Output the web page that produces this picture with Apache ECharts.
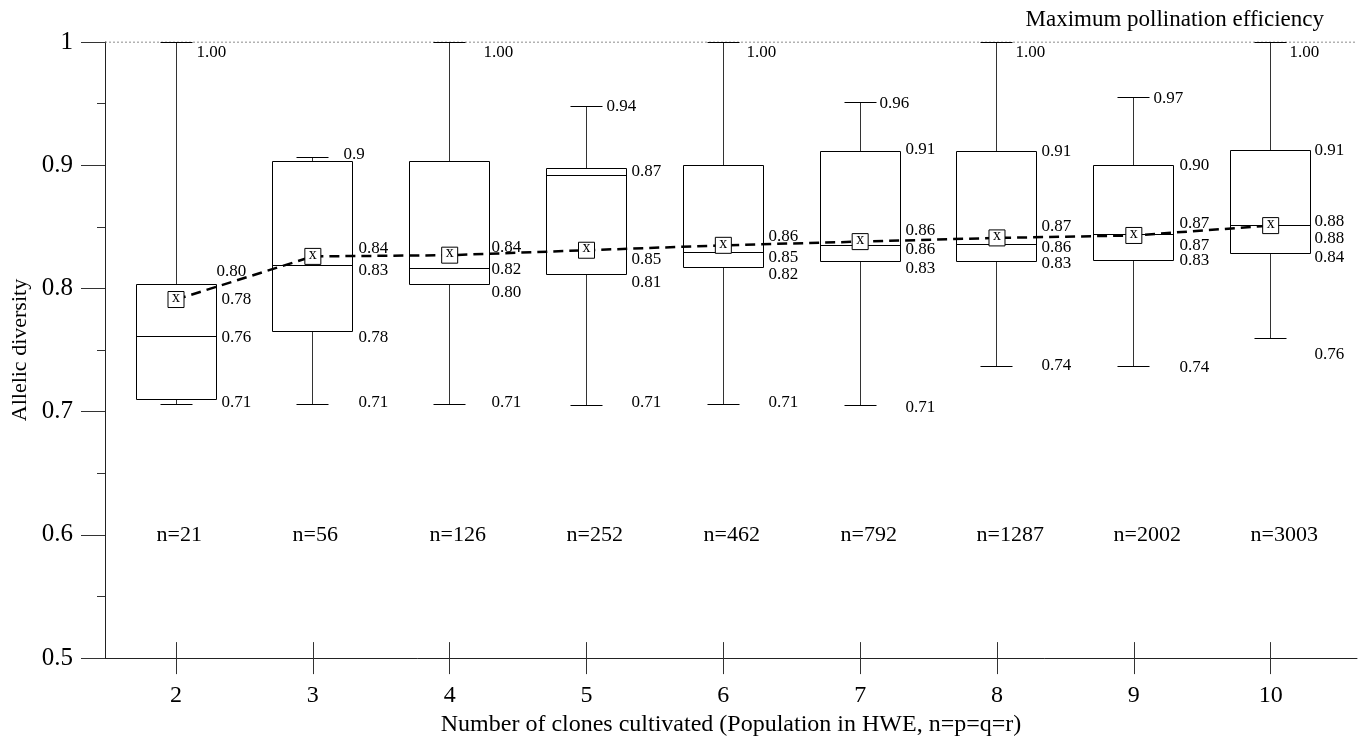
<!DOCTYPE html>
<html>
<head>
<meta charset="utf-8">
<script src="https://cdn.jsdelivr.net/npm/echarts@6/dist/echarts.min.js"></script>
<style>
html,body{margin:0;padding:0;background:#fff;}
#chart{width:1366px;height:742px;}
</style>
</head>
<body>
<div id="chart"></div>
<script>
// ---- data ----
const categories   = [2, 3, 4, 5, 6, 7, 8, 9, 10];
const sampleSizes  = ['n=21', 'n=56', 'n=126', 'n=252', 'n=462', 'n=792', 'n=1287', 'n=2002', 'n=3003'];
const whiskerHigh  = [1.000, 0.906, 1.000, 0.948, 1.000, 0.951, 1.000, 0.955, 1.000];
const q3           = [0.803, 0.903, 0.903, 0.897, 0.900, 0.911, 0.911, 0.900, 0.912];
const median       = [0.761, 0.819, 0.816, 0.892, 0.829, 0.835, 0.836, 0.844, 0.851];
const q1           = [0.710, 0.765, 0.803, 0.811, 0.817, 0.822, 0.822, 0.823, 0.828];
const whiskerLow   = [0.706, 0.706, 0.706, 0.705, 0.706, 0.705, 0.737, 0.737, 0.759];
const meanValues   = [0.791, 0.826, 0.827, 0.831, 0.835, 0.838, 0.841, 0.843, 0.851];
const maxEfficiency = 1.0;
const yTicks = [0.5, 0.6, 0.7, 0.8, 0.9, 1.0];

// value label texts printed next to each box ('' = none)
const labelWhiskerHigh = ['1.00', '0.9', '1.00', '0.94', '1.00', '0.96', '1.00', '0.97', '1.00'];
const labelQ3          = ['0.80', '', '', '0.87', '', '0.91', '0.91', '0.90', '0.91'];
const labelMean        = ['0.78', '0.84', '0.84', '0.85', '0.86', '0.86', '0.87', '0.87', '0.88'];
const labelMedian      = ['0.76', '0.83', '0.82', '', '0.85', '0.86', '0.86', '0.87', '0.88'];
const labelQ1          = ['', '0.78', '0.80', '0.81', '0.82', '0.83', '0.83', '0.83', '0.84'];
const labelWhiskerLow  = ['0.71', '0.71', '0.71', '0.71', '0.71', '0.71', '0.74', '0.74', '0.76'];

// ---- layout (pixel offsets of the value labels) ----
const LAYOUT = {
  boxHalf: 40, capHalf: 16,
  dxTop:   [20, 31, 34, 20, 23, 19, 19, 20, 19],
  dyTop:   [10, -3, 10, 0, 10, 1, 10, 1, 10],
  dxRight: [45, 46, 42, 45, 45, 45, 45, 46, 44],
  dyQ3:    [-13, 0, 0, 3, 0, -2, 0, 0, 0],
  dyMean:  [0, -8, -8, 9, -9, -11, -11, -12, -4],
  dyMed:   [1, 5, 1, 0, 5, 4, 3, 11, 13],
  dyQ1:    [0, 6, 8, 8, 7, 7, 2, 0, 4],
  dyWL:    [-2, -2, -2, -3, -2, 2, -1, 1, 16]
};
const SERIF = '"Liberation Serif", "Times New Roman", serif';
const X_MIN = 1.481, X_MAX = 10.631;

const boxData = categories.map((c, i) => [c, whiskerLow[i], q1[i], median[i], q3[i], whiskerHigh[i], meanValues[i]]);

function crisp(v) { return Math.round(v - 0.5) + 0.5; }

function renderBox(params, api) {
  const i = params.dataIndex;
  const xv = api.value(0);
  const cxp = crisp(api.coord([xv, 0.5])[0]);
  const y = k => crisp(api.coord([xv, api.value(k)])[1]);
  const yWL = y(1), yQ1 = y(2), yMed = y(3), yQ3 = y(4), yWH = y(5), yMean = api.coord([xv, api.value(6)])[1];
  const bh = LAYOUT.boxHalf, ch = LAYOUT.capHalf;
  const stroke = { stroke: '#000', lineWidth: 1, fill: null };
  const wstroke = { stroke: '#333', lineWidth: 1, fill: null };
  const kids = [
    { type: 'line', shape: { x1: cxp, y1: yWH, x2: cxp, y2: yQ3 }, style: wstroke },
    { type: 'line', shape: { x1: cxp, y1: yQ1, x2: cxp, y2: yWL }, style: wstroke },
    { type: 'line', shape: { x1: cxp - ch, y1: yWH, x2: cxp + ch, y2: yWH }, style: stroke },
    { type: 'line', shape: { x1: cxp - ch, y1: yWL, x2: cxp + ch, y2: yWL }, style: stroke },
    { type: 'rect', shape: { x: cxp - bh, y: yQ3, width: 2 * bh, height: yQ1 - yQ3 }, style: stroke },
    { type: 'line', shape: { x1: cxp - bh, y1: yMed, x2: cxp + bh, y2: yMed }, style: stroke }
  ];
  const font = '17px ' + SERIF;
  function txt(t, x, yy) {
    if (!t) return;
    kids.push({ type: 'text', x: x, y: yy, style: { text: t, font: font, fill: '#000', align: 'left', verticalAlign: 'middle' } });
  }
  const xr = cxp + LAYOUT.dxRight[i];
  txt(labelWhiskerHigh[i], cxp + LAYOUT.dxTop[i], yWH + LAYOUT.dyTop[i]);
  txt(labelQ3[i], i === 0 ? cxp + bh : xr, yQ3 + LAYOUT.dyQ3[i]);
  txt(labelMean[i], xr, yMean + LAYOUT.dyMean[i]);
  txt(labelMedian[i], xr, yMed + LAYOUT.dyMed[i]);
  txt(labelQ1[i], xr, yQ1 + LAYOUT.dyQ1[i]);
  txt(labelWhiskerLow[i], xr, yWL + LAYOUT.dyWL[i]);
  // sample size label
  const pN = api.coord([xv, 0.6]);
  kids.push({ type: 'text', x: cxp - 20, y: pN[1], style: { text: sampleSizes[i], font: '22px ' + SERIF, fill: '#000', align: 'left', verticalAlign: 'middle' } });
  return { type: 'group', children: kids };
}

const chart = echarts.init(document.getElementById('chart'), null, { renderer: 'canvas' });
const option = {
  animation: false,
  backgroundColor: '#fff',
  grid: { left: 105, right: 9, top: 42, bottom: 78, containLabel: false },
  xAxis: [{
    type: 'value', min: X_MIN, max: X_MAX,
    name: 'Number of clones cultivated (Population in HWE, n=p=q=r)',
    nameLocation: 'middle', nameGap: 50,
    nameTextStyle: { fontFamily: SERIF, fontSize: 24, color: '#000' },
    axisLine: { show: true, lineStyle: { color: '#222', width: 1 } },
    axisTick: { show: true, length: 16, customValues: categories, lineStyle: { color: '#333' } },
    axisLabel: { customValues: categories, margin: 26, fontFamily: SERIF, fontSize: 24, color: '#000' },
    splitLine: { show: false }
  }, {
    type: 'value', min: X_MIN, max: X_MAX, position: 'bottom', gridIndex: 0,
    axisLine: { show: false },
    axisTick: { show: true, inside: true, length: 16, customValues: categories, lineStyle: { color: '#333' } },
    axisLabel: { show: false },
    splitLine: { show: false }
  }],
  yAxis: {
    type: 'value', min: 0.5, max: 1.0, interval: 0.1,
    name: 'Allelic diversity', nameLocation: 'middle', nameGap: 72,
    nameTextStyle: { fontFamily: SERIF, fontSize: 22, color: '#000' },
    axisLine: { show: true, lineStyle: { color: '#222', width: 1 } },
    axisTick: { show: true, length: 24, lineStyle: { color: '#333' } },
    minorTick: { show: true, splitNumber: 2, length: 8, lineStyle: { color: '#333' } },
    axisLabel: { margin: 32, fontFamily: SERIF, fontSize: 25, color: '#000',
      formatter: v => String(+v.toFixed(1)) },
    splitLine: { show: false }
  },
  graphic: [{
    type: 'text', right: 42, top: 8,
    style: { text: 'Maximum pollination efficiency', font: '23px ' + SERIF, fill: '#000' }
  }],
  series: [{
    type: 'line', xAxisIndex: 0, silent: true, symbol: 'none', z: 1,
    data: [[X_MIN, maxEfficiency], [X_MAX, maxEfficiency]],
    lineStyle: { color: '#666', width: 1, type: [2, 2] }
  }, {
    type: 'custom', xAxisIndex: 0, renderItem: renderBox, data: boxData, z: 2,
    encode: { x: 0, y: [1, 2, 3, 4, 5] }
  }, {
    type: 'line', xAxisIndex: 0, symbol: 'none', z: 3,
    data: categories.map((c, i) => [c, meanValues[i]]),
    lineStyle: { color: '#000', width: 2.5, type: [10, 6] }
  }, {
    type: 'scatter', xAxisIndex: 0, z: 4, symbol: 'rect', symbolSize: 16,
    data: categories.map((c, i) => [c, meanValues[i]]),
    itemStyle: { color: '#fff', borderColor: '#000', borderWidth: 1, opacity: 1 },
    label: { show: true, position: 'inside', formatter: 'x', fontFamily: SERIF, fontSize: 16, color: '#000', offset: [0, -2] }
  }]
};
chart.setOption(option);
</script>
</body>
</html>
